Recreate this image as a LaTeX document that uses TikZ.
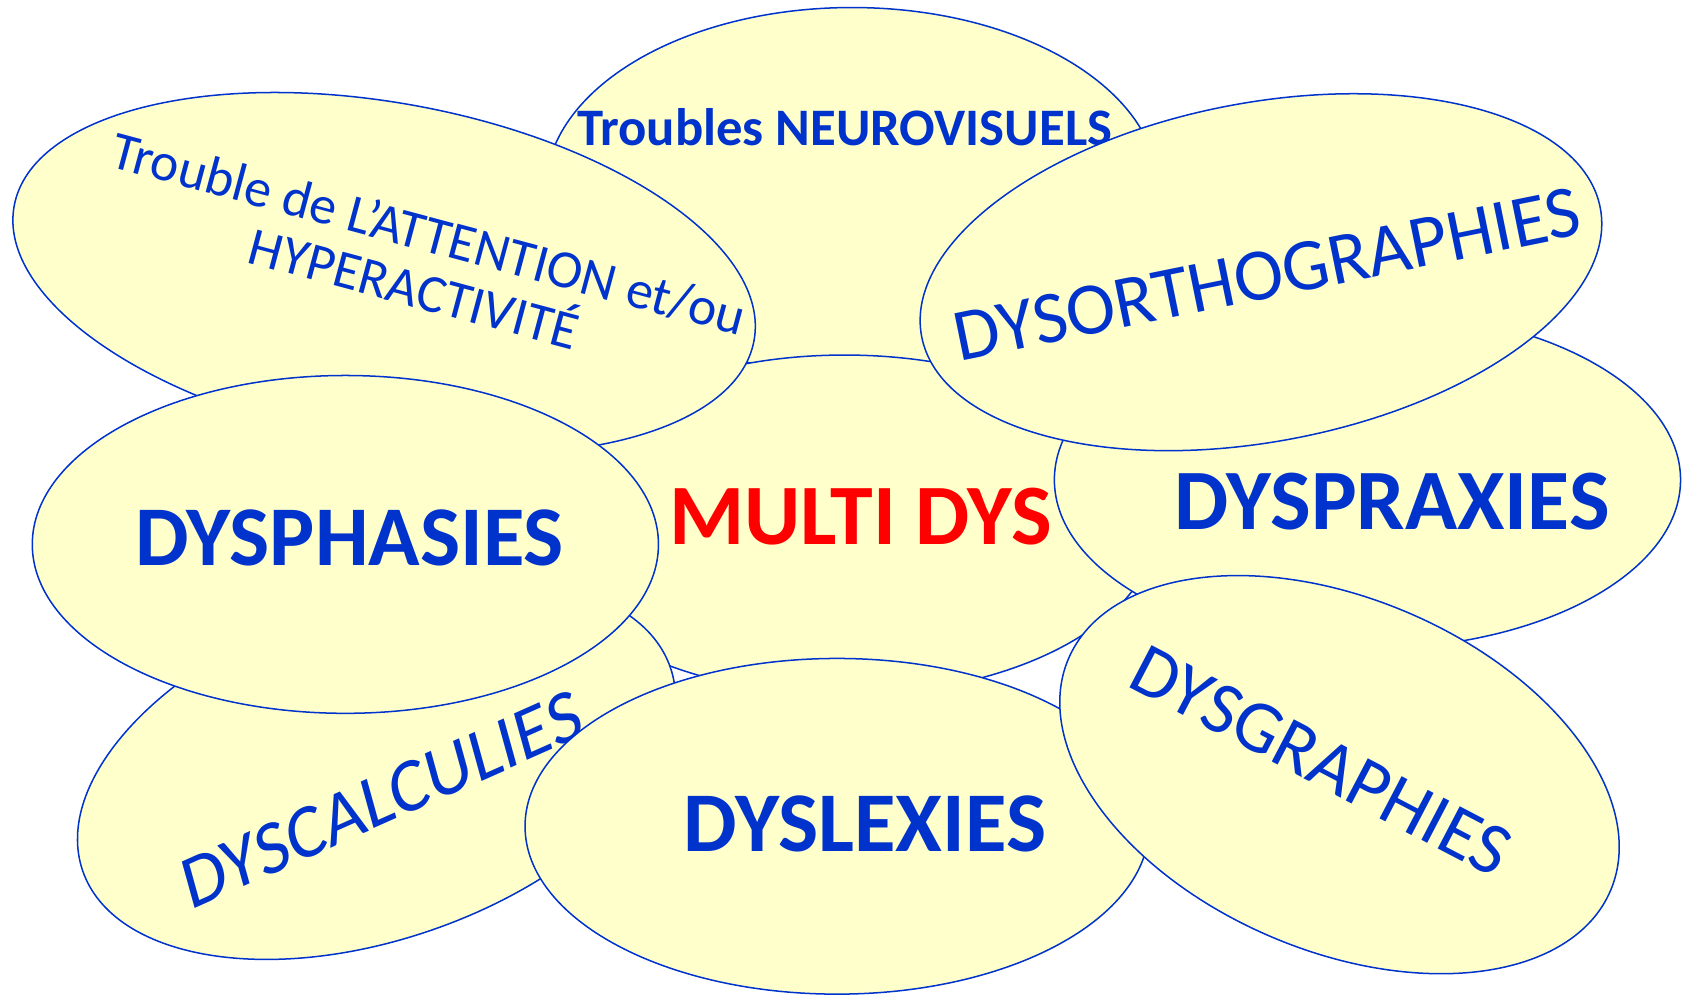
\documentclass[tikz,border=0pt]{standalone}
\usepackage{fontspec}
\setmainfont{Carlito}
\usetikzlibrary{shapes.geometric}
\definecolor{bubblefill}{HTML}{FFFFCC}
\definecolor{dysblue}{HTML}{0033CC}
\definecolor{dysred}{HTML}{FF0000}

\begin{document}
\begin{tikzpicture}[
    x=1pt, y=-1pt,
    bubble/.style={ellipse, draw=dysblue, line width=1.4pt, fill=bubblefill, minimum width=580pt, minimum height=316pt, inner sep=0pt},
    biglabel/.style={text=dysblue, font=\fontsize{80}{80}\selectfont\bfseries, inner sep=0pt},
    thinlabel/.style={text=dysblue, font=\fontsize{69}{69}\selectfont, inner sep=0pt},
    smalllabel/.style={text=dysblue, font=\fontsize{50}{53}\selectfont, inner sep=0pt, align=center}
]
\useasboundingbox (0,0) rectangle (1568,925);

% back row
\node[bubble, minimum width=570pt, minimum height=340pt] (neuro) at (792,177) {};
\node[smalllabel, font=\fontsize{49}{52}\selectfont\bfseries] (neurotext) at (785,118) {Troubles NEUROVISUELS};

\node[bubble] (multi) at (785,488) {};
\node[biglabel, text=dysred] (multitext) at (800,480) {MULTI DYS};

\node[bubble, rotate=-10.3, minimum width=699pt, minimum height=317pt] (attention) at (357,254) {};
\node[smalllabel, rotate=-15] (attentiontext) at (392,242) {Trouble de L’ATTENTION et/ou\\HYPERACTIVITÉ};

\node[bubble, rotate=19.1, minimum width=578pt] (dyscalc) at (350,715) {};
\node[thinlabel, rotate=24, xslant=0.15] (dyscalctext) at (355,743) {DYSCALCULIES};

% front row
\node[bubble, minimum width=582pt, minimum height=314pt] (dysphasie) at (321,506) {};
\node[biglabel, font=\fontsize{79}{79}\selectfont\bfseries] (dysphasietext) at (325,500) {DYSPHASIES};

\node[bubble, minimum width=582pt, minimum height=314pt] (dyspraxie) at (1271,446) {};
\node[biglabel] (dyspraxietext) at (1294,466) {DYSPRAXIES};

\node[bubble, rotate=10.7, minimum width=642pt, minimum height=315pt] (dysortho) at (1172,253) {};
\node[thinlabel, rotate=11.5] (dysorthotext) at (1178,255) {DYSORTHOGRAPHIES};

\node[bubble, minimum height=312pt] (dyslexie) at (778,768) {};
\node[biglabel, font=\fontsize{79}{79}\selectfont\bfseries] (dyslexietext) at (804,766) {DYSLEXIES};

\node[bubble, rotate=-23.2, minimum width=548pt, minimum height=327pt] (dysgraph) at (1245,720) {};
\node[thinlabel, rotate=-27.6] (dysgraphtext) at (1228,707) {DYSGRAPHIES};
\end{tikzpicture}
\end{document}
